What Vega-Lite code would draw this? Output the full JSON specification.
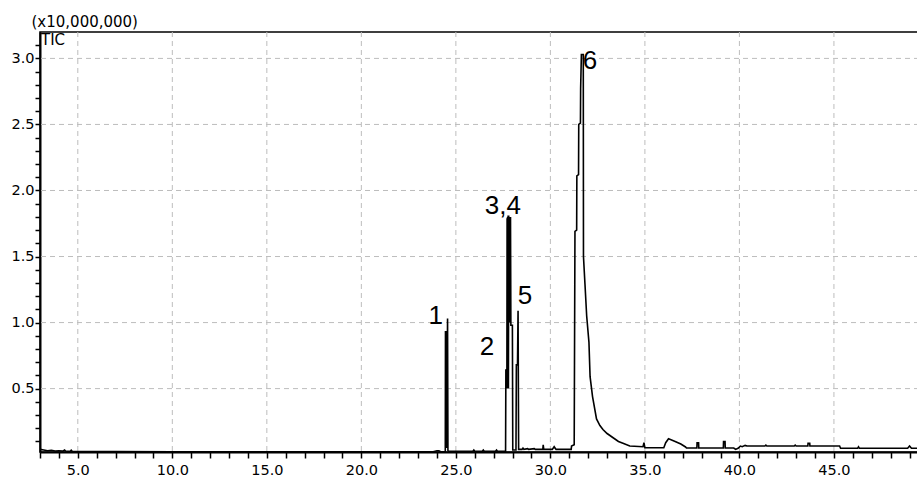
{
  "$schema": "https://vega.github.io/schema/vega-lite/v6.json",
  "width": 879,
  "height": 420,
  "autosize": {"type": "none"},
  "padding": {"left": 40, "top": 32, "right": 0, "bottom": 27},
  "background": "white",
  "config": {"view": {"stroke": "#000", "strokeWidth": 1.5}, "font": "DejaVu Sans"},
  "layer": [
    {
      "data": {"values": [{"t": 5}, {"t": 10}, {"t": 15}, {"t": 20}, {"t": 25}, {"t": 30}, {"t": 35}, {"t": 40}, {"t": 45}]},
      "mark": {"type": "rule", "color": "#bdbdbd", "strokeWidth": 1, "strokeDash": [5, 4]},
      "encoding": {
        "x": {"field": "t", "type": "quantitative", "scale": {"domain": [3, 49.5], "nice": false, "zero": false},
          "axis": {"values": [3,4,5,6,7,8,9,10,11,12,13,14,15,16,17,18,19,20,21,22,23,24,25,26,27,28,29,30,31,32,33,34,35,36,37,38,39,40,41,42,43,44,45,46,47,48,49], "labelExpr": "datum.value % 5 == 0 ? format(datum.value, '.1f') : ''", "grid": false, "ticks": true, "tickSize": 6, "tickColor": "#000", "tickWidth": 1.5, "domainColor": "#000", "domainWidth": 2, "labelFontSize": 14.5, "labelColor": "#000", "labelFont": "DejaVu Sans", "labelPadding": 5, "labelFlush": false, "labelOverlap": false, "title": null}
        }
      }
    },
    {
      "data": {"values": [{"v": 0.5}, {"v": 1.0}, {"v": 1.5}, {"v": 2.0}, {"v": 2.5}, {"v": 3.0}]},
      "mark": {"type": "rule", "color": "#bdbdbd", "strokeWidth": 1, "strokeDash": [5, 4]},
      "encoding": {
        "y": {"field": "v", "type": "quantitative", "scale": {"domain": [0.02, 3.2], "nice": false, "zero": false},
          "axis": {"values": [0.1,0.2,0.3,0.4,0.5,0.6,0.7,0.8,0.9,1.0,1.1,1.2,1.3,1.4,1.5,1.6,1.7,1.8,1.9,2.0,2.1,2.2,2.3,2.4,2.5,2.6,2.7,2.8,2.9,3.0,3.1], "labelExpr": "abs(datum.value*2 - round(datum.value*2)) < 0.001 ? format(datum.value, '.1f') : ''", "grid": false, "ticks": true, "tickSize": 5, "tickColor": "#000", "tickWidth": 1.5, "domainColor": "#000", "domainWidth": 2, "labelFontSize": 14.5, "labelColor": "#000", "labelFont": "DejaVu Sans", "labelPadding": 1, "labelOverlap": false, "title": "(x10,000,000)", "titleAngle": 0, "titleAlign": "left", "titleBaseline": "middle", "titleX": -9, "titleY": -11, "titleFontSize": 15, "titleFontWeight": "normal", "titleFont": "DejaVu Sans", "titleColor": "#000"}
        }
      }
    },
    {
      "data": {"values": [
        {"t":3.0,"v":0.04},{"t":3.2,"v":0.035},{"t":3.4,"v":0.03},{"t":3.6,"v":0.033},{"t":3.8,"v":0.028},{"t":4.0,"v":0.03},{"t":4.2,"v":0.027},{"t":4.3,"v":0.035},{"t":4.35,"v":0.027},{"t":4.6,"v":0.026},{"t":4.65,"v":0.034},{"t":4.7,"v":0.025},{"t":5.5,"v":0.024},{"t":7,"v":0.023},{"t":10,"v":0.022},{"t":15,"v":0.022},{"t":20,"v":0.022},{"t":23.8,"v":0.022},{"t":24.0,"v":0.03},{"t":24.1,"v":0.03},{"t":24.2,"v":0.022},{"t":24.44,"v":0.022},
        {"t":24.45,"v":0.93},{"t":24.5,"v":0.93},{"t":24.52,"v":0.05},{"t":24.56,"v":1.03},{"t":24.58,"v":0.03},{"t":24.62,"v":0.025},
        {"t":25.9,"v":0.025},{"t":25.95,"v":0.035},{"t":26.0,"v":0.025},{"t":26.4,"v":0.025},{"t":26.45,"v":0.035},{"t":26.5,"v":0.025},{"t":27.1,"v":0.025},{"t":27.15,"v":0.035},{"t":27.2,"v":0.025},{"t":27.63,"v":0.025},
        {"t":27.645,"v":0.64},{"t":27.7,"v":0.64},{"t":27.71,"v":1.79},{"t":27.72,"v":0.5},{"t":27.735,"v":1.8},{"t":27.75,"v":0.5},{"t":27.765,"v":1.81},{"t":27.78,"v":0.5},{"t":27.795,"v":1.81},{"t":27.82,"v":1.0},{"t":27.84,"v":1.8},{"t":27.87,"v":1.0},{"t":27.89,"v":1.8},{"t":27.91,"v":0.98},{"t":27.99,"v":0.98},{"t":28.01,"v":0.035},{"t":28.18,"v":0.035},{"t":28.2,"v":0.68},{"t":28.26,"v":0.68},{"t":28.29,"v":1.09},{"t":28.32,"v":0.04},
        {"t":28.5,"v":0.04},{"t":28.55,"v":0.05},{"t":28.6,"v":0.04},{"t":28.8,"v":0.045},{"t":28.85,"v":0.04},{"t":29.15,"v":0.045},{"t":29.2,"v":0.04},{"t":29.6,"v":0.04},{"t":29.62,"v":0.075},{"t":29.65,"v":0.04},{"t":30.1,"v":0.04},{"t":30.2,"v":0.06},{"t":30.3,"v":0.04},{"t":31.1,"v":0.04},{"t":31.12,"v":0.065},{"t":31.26,"v":0.075},
        {"t":31.3,"v":1.69},{"t":31.39,"v":1.7},{"t":31.4,"v":2.11},{"t":31.49,"v":2.12},{"t":31.5,"v":2.5},{"t":31.59,"v":2.51},{"t":31.6,"v":2.77},{"t":31.64,"v":3.03},{"t":31.74,"v":3.03},{"t":31.75,"v":1.5},{"t":31.83,"v":1.29},{"t":31.92,"v":1.05},{"t":32.04,"v":0.85},{"t":32.1,"v":0.59},{"t":32.23,"v":0.44},{"t":32.44,"v":0.27},{"t":32.62,"v":0.22},{"t":32.78,"v":0.19},{"t":33.0,"v":0.16},{"t":33.3,"v":0.13},{"t":33.6,"v":0.1},{"t":33.84,"v":0.086},{"t":34.2,"v":0.065},{"t":34.9,"v":0.06},{"t":34.95,"v":0.09},{"t":35.0,"v":0.052},
        {"t":36.0,"v":0.052},{"t":36.1,"v":0.09},{"t":36.25,"v":0.12},{"t":36.35,"v":0.115},{"t":36.6,"v":0.1},{"t":36.9,"v":0.08},{"t":37.15,"v":0.058},{"t":37.2,"v":0.05},{"t":37.75,"v":0.05},{"t":37.76,"v":0.09},{"t":37.84,"v":0.09},{"t":37.85,"v":0.05},{"t":39.15,"v":0.05},{"t":39.16,"v":0.1},{"t":39.24,"v":0.1},{"t":39.25,"v":0.05},{"t":39.7,"v":0.05},{"t":39.8,"v":0.04},{"t":39.95,"v":0.05},{"t":40.05,"v":0.065},{"t":40.15,"v":0.06},{"t":40.3,"v":0.07},{"t":40.4,"v":0.065},{"t":41.35,"v":0.065},{"t":41.4,"v":0.072},{"t":41.45,"v":0.065},{"t":42.9,"v":0.065},{"t":42.95,"v":0.072},{"t":43.0,"v":0.065},{"t":43.62,"v":0.065},{"t":43.63,"v":0.085},{"t":43.72,"v":0.085},{"t":43.73,"v":0.065},{"t":45.3,"v":0.065},{"t":45.35,"v":0.048},{"t":46.25,"v":0.048},{"t":46.3,"v":0.06},{"t":46.35,"v":0.048},{"t":48.9,"v":0.048},{"t":49.0,"v":0.065},{"t":49.1,"v":0.048},{"t":49.5,"v":0.048}
      ]},
      "mark": {"type": "line", "color": "#000", "strokeWidth": 1.6, "clip": true},
      "encoding": {
        "x": {"field": "t", "type": "quantitative", "scale": {"domain": [3, 49.5], "nice": false, "zero": false},
          "axis": {"values": [3,4,5,6,7,8,9,10,11,12,13,14,15,16,17,18,19,20,21,22,23,24,25,26,27,28,29,30,31,32,33,34,35,36,37,38,39,40,41,42,43,44,45,46,47,48,49], "labelExpr": "datum.value % 5 == 0 ? format(datum.value, '.1f') : ''", "grid": false, "ticks": true, "tickSize": 6, "tickColor": "#000", "tickWidth": 1.5, "domainColor": "#000", "domainWidth": 2, "labelFontSize": 14.5, "labelColor": "#000", "labelFont": "DejaVu Sans", "labelPadding": 5, "labelFlush": false, "labelOverlap": false, "title": null}},
        "y": {"field": "v", "type": "quantitative", "scale": {"domain": [0.02, 3.2], "nice": false, "zero": false},
          "axis": {"values": [0.1,0.2,0.3,0.4,0.5,0.6,0.7,0.8,0.9,1.0,1.1,1.2,1.3,1.4,1.5,1.6,1.7,1.8,1.9,2.0,2.1,2.2,2.3,2.4,2.5,2.6,2.7,2.8,2.9,3.0,3.1], "labelExpr": "abs(datum.value*2 - round(datum.value*2)) < 0.001 ? format(datum.value, '.1f') : ''", "grid": false, "ticks": true, "tickSize": 5, "tickColor": "#000", "tickWidth": 1.5, "domainColor": "#000", "domainWidth": 2, "labelFontSize": 14.5, "labelColor": "#000", "labelFont": "DejaVu Sans", "labelPadding": 1, "labelOverlap": false, "title": "(x10,000,000)", "titleAngle": 0, "titleAlign": "left", "titleBaseline": "middle", "titleX": -9, "titleY": -11, "titleFontSize": 15, "titleFontWeight": "normal", "titleFont": "DejaVu Sans", "titleColor": "#000"}}
      }
    },
    {
      "data": {"values": [
        {"t": 23.94, "v": 1.05, "label": "1"},
        {"t": 26.64, "v": 0.816, "label": "2"},
        {"t": 27.49, "v": 1.88, "label": "3,4"},
        {"t": 28.65, "v": 1.2, "label": "5"},
        {"t": 32.09, "v": 2.98, "label": "6"},
        {"t": 3.0, "v": 3.2, "label": "TIC"}
      ]},
      "transform": [{"filter": "datum.label != 'TIC'"}],
      "mark": {"type": "text", "font": "Liberation Sans", "fontSize": 26, "align": "center", "baseline": "middle", "color": "#000"},
      "encoding": {
        "x": {"field": "t", "type": "quantitative", "scale": {"domain": [3, 49.5], "nice": false, "zero": false},
          "axis": {"values": [3,4,5,6,7,8,9,10,11,12,13,14,15,16,17,18,19,20,21,22,23,24,25,26,27,28,29,30,31,32,33,34,35,36,37,38,39,40,41,42,43,44,45,46,47,48,49], "labelExpr": "datum.value % 5 == 0 ? format(datum.value, '.1f') : ''", "grid": false, "ticks": true, "tickSize": 6, "tickColor": "#000", "tickWidth": 1.5, "domainColor": "#000", "domainWidth": 2, "labelFontSize": 14.5, "labelColor": "#000", "labelFont": "DejaVu Sans", "labelPadding": 5, "labelFlush": false, "labelOverlap": false, "title": null}},
        "y": {"field": "v", "type": "quantitative", "scale": {"domain": [0.02, 3.2], "nice": false, "zero": false},
          "axis": {"values": [0.1,0.2,0.3,0.4,0.5,0.6,0.7,0.8,0.9,1.0,1.1,1.2,1.3,1.4,1.5,1.6,1.7,1.8,1.9,2.0,2.1,2.2,2.3,2.4,2.5,2.6,2.7,2.8,2.9,3.0,3.1], "labelExpr": "abs(datum.value*2 - round(datum.value*2)) < 0.001 ? format(datum.value, '.1f') : ''", "grid": false, "ticks": true, "tickSize": 5, "tickColor": "#000", "tickWidth": 1.5, "domainColor": "#000", "domainWidth": 2, "labelFontSize": 14.5, "labelColor": "#000", "labelFont": "DejaVu Sans", "labelPadding": 1, "labelOverlap": false, "title": "(x10,000,000)", "titleAngle": 0, "titleAlign": "left", "titleBaseline": "middle", "titleX": -9, "titleY": -11, "titleFontSize": 15, "titleFontWeight": "normal", "titleFont": "DejaVu Sans", "titleColor": "#000"}},
        "text": {"field": "label"}
      }
    },
    {
      "data": {"values": [{"t": 3.0, "v": 3.2, "label": "TIC"}]},
      "mark": {"type": "text", "font": "DejaVu Sans", "fontSize": 15, "align": "left", "baseline": "top", "dx": 1, "dy": 1, "color": "#000"},
      "encoding": {
        "x": {"field": "t", "type": "quantitative", "scale": {"domain": [3, 49.5], "nice": false, "zero": false},
          "axis": {"values": [3,4,5,6,7,8,9,10,11,12,13,14,15,16,17,18,19,20,21,22,23,24,25,26,27,28,29,30,31,32,33,34,35,36,37,38,39,40,41,42,43,44,45,46,47,48,49], "labelExpr": "datum.value % 5 == 0 ? format(datum.value, '.1f') : ''", "grid": false, "ticks": true, "tickSize": 6, "tickColor": "#000", "tickWidth": 1.5, "domainColor": "#000", "domainWidth": 2, "labelFontSize": 14.5, "labelColor": "#000", "labelFont": "DejaVu Sans", "labelPadding": 5, "labelFlush": false, "labelOverlap": false, "title": null}},
        "y": {"field": "v", "type": "quantitative", "scale": {"domain": [0.02, 3.2], "nice": false, "zero": false},
          "axis": {"values": [0.1,0.2,0.3,0.4,0.5,0.6,0.7,0.8,0.9,1.0,1.1,1.2,1.3,1.4,1.5,1.6,1.7,1.8,1.9,2.0,2.1,2.2,2.3,2.4,2.5,2.6,2.7,2.8,2.9,3.0,3.1], "labelExpr": "abs(datum.value*2 - round(datum.value*2)) < 0.001 ? format(datum.value, '.1f') : ''", "grid": false, "ticks": true, "tickSize": 5, "tickColor": "#000", "tickWidth": 1.5, "domainColor": "#000", "domainWidth": 2, "labelFontSize": 14.5, "labelColor": "#000", "labelFont": "DejaVu Sans", "labelPadding": 1, "labelOverlap": false, "title": "(x10,000,000)", "titleAngle": 0, "titleAlign": "left", "titleBaseline": "middle", "titleX": -9, "titleY": -11, "titleFontSize": 15, "titleFontWeight": "normal", "titleFont": "DejaVu Sans", "titleColor": "#000"}},
        "text": {"field": "label"}
      }
    }
  ]
}
